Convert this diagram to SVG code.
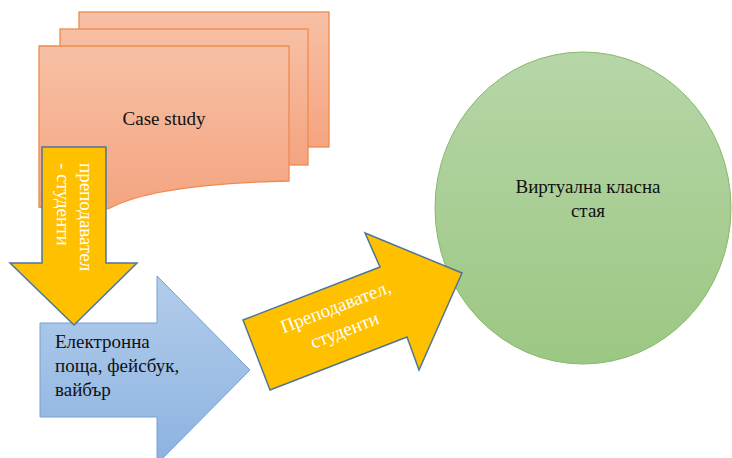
<svg xmlns="http://www.w3.org/2000/svg" width="732" height="458" viewBox="0 0 732 458">
<defs>
<linearGradient id="gOrange" x1="0" y1="0" x2="0" y2="1">
<stop offset="0" stop-color="#f7c0a5"/>
<stop offset="1" stop-color="#f4a47f"/>
</linearGradient>
<linearGradient id="gBlue" x1="0" y1="0" x2="0" y2="1">
<stop offset="0" stop-color="#b2cdeb"/>
<stop offset="1" stop-color="#8db2e0"/>
</linearGradient>
<linearGradient id="gGreen" x1="0" y1="0" x2="0" y2="1">
<stop offset="0" stop-color="#b6d6a7"/>
<stop offset="1" stop-color="#9cc783"/>
</linearGradient>
<style>
.doc{fill:url(#gOrange);stroke:#ee8a4e;stroke-width:1.3}
.yel{fill:#ffc000;stroke:#4f7597;stroke-width:1.5;stroke-linejoin:miter}
.blu{fill:url(#gBlue);stroke:#76a0d3;stroke-width:1}
.grn{fill:url(#gGreen);stroke:#86b86a;stroke-width:1}
.t{font-family:'Liberation Serif','Times New Roman',serif;font-size:19px;fill:#111111}
.w{font-family:'Liberation Serif','Times New Roman',serif;font-size:19px;fill:#ffffff}
</style>
</defs>
<rect width="732" height="458" fill="#ffffff"/>

<g id="case-study">
<rect class="doc" x="79" y="12" width="250" height="135"/>
<rect class="doc" x="60" y="29" width="248" height="136"/>
<path class="doc" d="M39,46 H289 V181 C200,183 140,192 110,208 C90,216 60,212 39,207 Z"/>
<text class="t" x="164" y="125" text-anchor="middle">Case study</text>
</g>

<g id="electronic-mail">
<path class="blu" d="M40,323 H157 V276 L250,370 L157,464 V417 H40 Z"/>
<text class="t" x="55" y="348">Електронна</text>
<text class="t" x="55" y="372">поща, фейсбук,</text>
<text class="t" x="55" y="396">вайбър</text>
</g>

<g id="teacher-students-down">
<path class="yel" d="M42,147 H106 V263 H137 L74,325 L10,263 H42 Z"/>
<g transform="translate(80,163) rotate(90)">
<text class="w" x="0" y="0">преподавател</text>
<text class="w" x="0" y="23">- студенти</text>
</g>
</g>

<g id="virtual-classroom">
<ellipse class="grn" cx="583" cy="208" rx="148" ry="156"/>
<text class="t" x="588" y="193" text-anchor="middle">Виртуална класна</text>
<text class="t" x="588" y="217" text-anchor="middle">стая</text>
</g>

<g id="teacher-students-arrow">
<path class="yel" d="M243,320 L380,267 L365,233 L462,273 L419,370 L407,337 L270,390 Z"/>
<g transform="translate(336,308) rotate(-21)">
<text class="w" x="0" y="5" text-anchor="middle">Преподавател,</text>
<text class="w" x="0" y="30" text-anchor="middle">студенти</text>
</g>
</g>

<g id="connectors"></g>
</svg>
